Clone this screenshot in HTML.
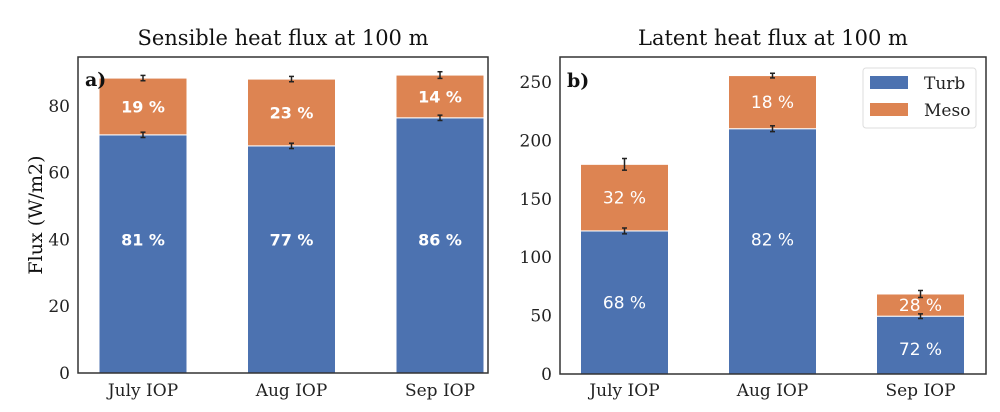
<!DOCTYPE html>
<html><head><meta charset="utf-8"><style>
body{margin:0;background:#fff;}
svg{display:block;font-family:"DejaVu Serif","Liberation Serif",serif;}
</style></head><body>
<svg id="chart" width="1000" height="412"></svg>
<script>
const categories = ["July IOP","Aug IOP","Sep IOP"];
const sensTurb = [71.3, 68.0, 76.4];
const sensMeso = [17.0, 20.0, 12.8];
const sensTurbErr = [0.8, 0.8, 0.8];
const sensTotErr = [0.8, 0.8, 1.0];
const sensTurbPct = ["81 %","77 %","86 %"];
const sensMesoPct = ["19 %","23 %","14 %"];
const latTurb = [122.5, 210.0, 49.5];
const latMeso = [57.0, 45.5, 19.0];
const latTurbErr = [2.5, 2.5, 2.0];
const latTotErr = [5.0, 2.0, 3.0];
const latTurbPct = ["68 %","82 %","72 %"];
const latMesoPct = ["32 %","18 %","28 %"];
const sensTicks = [0,20,40,60,80];
const latTicks = [0,50,100,150,200,250];

const NS="http://www.w3.org/2000/svg";
const svg=document.getElementById('chart');
function mk(tag,attrs,parent,name,txt){
  const e=document.createElementNS(NS,tag);
  for(const k in attrs)e.setAttribute(k,attrs[k]);
  
  
  if(txt!==undefined)e.textContent=txt;
  (parent||svg).appendChild(e);return e;
}
const BLUE="#4c72b0",ORANGE="#dd8452";
function panel(o){
  const g=mk('g',{},svg,o.id);
  const y=v=>o.y0-v*o.scale;
  const x=i=>o.x0+i*o.step;
  o.ticks.forEach(t=>{
    mk('text',{x:o.left-8,y:y(t)+6,'text-anchor':'end','font-size':17,fill:'#222'},g,'y-tick-label',String(t));
  });
  categories.forEach((c,i)=>{
    const cx=x(i),w=88;
    const yt=y(o.turb[i]),ym=y(o.turb[i]+o.meso[i]);
    mk('rect',{x:cx-w/2,y:yt,width:w,height:o.y0-yt,fill:BLUE,stroke:'#fff','stroke-width':1},g,'bar-turb-'+i);
    mk('rect',{x:cx-w/2,y:ym,width:w,height:yt-ym,fill:ORANGE,stroke:'#fff','stroke-width':1},g,'bar-meso-'+i);
    [[o.turb[i],o.terr[i]],[o.turb[i]+o.meso[i],o.merr[i]]].forEach(([v,e])=>{
      mk('line',{x1:cx,x2:cx,y1:y(v+e),y2:y(v-e),stroke:'#222','stroke-width':1.5},g,'error-bar');
      mk('line',{x1:cx-2.5,x2:cx+2.5,y1:y(v+e),y2:y(v+e),stroke:'#222','stroke-width':1.5},g,'error-cap');
      mk('line',{x1:cx-2.5,x2:cx+2.5,y1:y(v-e),y2:y(v-e),stroke:'#222','stroke-width':1.5},g,'error-cap');
    });
    const lf={'text-anchor':'middle','font-size':o.bold?16:17,fill:'#fff','font-weight':o.bold?'bold':'normal','font-family':'"DejaVu Sans","Liberation Sans",sans-serif'};
    const tl=o.bold? y(40) : y(o.turb[i]/2)-(i===1?12:0)+(i===2?4:0);
    mk('text',Object.assign({x:cx,y:tl+6},lf),g,'turb-percent-label',o.tp[i]);
    mk('text',Object.assign({x:cx,y:(yt+ym)/2+6},lf),g,'meso-percent-label',o.mp[i]);
    mk('text',{x:cx,y:396,'text-anchor':'middle','font-size':17,fill:'#222'},g,'x-tick-label',c);
  });
  mk('rect',{x:o.left,y:57,width:o.right-o.left,height:o.y0-57,fill:'none',stroke:'#333','stroke-width':1.5},g,'axes-frame');
  mk('text',{x:(o.left+o.right)/2,y:45,'text-anchor':'middle','font-size':21,fill:'#111'},g,'chart-title',o.title);
  mk('text',{x:o.left+7,y:o.lblY,'font-size':19,'font-weight':'bold',fill:'#111'},g,'panel-label',o.lbl);
}
panel({id:'panel-sensible',left:78,right:488,y0:373,scale:3.34,x0:143,step:148.5,ticks:sensTicks,
  turb:sensTurb,meso:sensMeso,terr:sensTurbErr,merr:sensTotErr,tp:sensTurbPct,mp:sensMesoPct,bold:true,
  title:"Sensible heat flux at 100 m",lbl:"a)",lblY:86});
panel({id:'panel-latent',left:560,right:986,y0:374,scale:1.168,x0:624.5,step:148,ticks:latTicks,
  turb:latTurb,meso:latMeso,terr:latTurbErr,merr:latTotErr,tp:latTurbPct,mp:latMesoPct,bold:false,
  title:"Latent heat flux at 100 m",lbl:"b)",lblY:87});
mk('text',{x:42,y:215,'text-anchor':'middle','font-size':19,fill:'#111',transform:'rotate(-90 42 215)'},svg,'y-axis-title',"Flux (W/m2)");
const lg=mk('g',{},svg,'legend');
mk('rect',{x:863,y:68,width:113,height:60,rx:3,fill:'#fff',stroke:'#ddd'},lg,'legend-frame');
mk('rect',{x:870,y:76,width:38,height:13,fill:BLUE},lg,'legend-swatch-turb');
mk('text',{x:924,y:89,'font-size':17,fill:'#222'},lg,'legend-label-turb',"Turb");
mk('rect',{x:870,y:103,width:38,height:13,fill:ORANGE},lg,'legend-swatch-meso');
mk('text',{x:924,y:116,'font-size':17,fill:'#222'},lg,'legend-label-meso',"Meso");
</script>
</body></html>
